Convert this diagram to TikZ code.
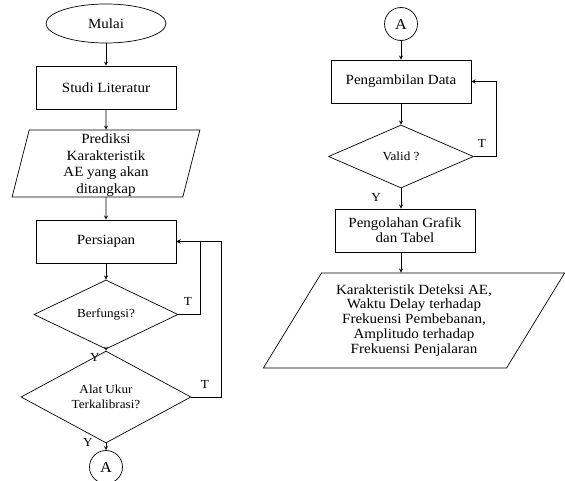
\documentclass[tikz,border=0pt]{standalone}
\usepackage{fontspec}
\setmainfont{Liberation Serif}[FakeStretch=1.07]
\usetikzlibrary{positioning, calc, shapes.geometric}

\begin{document}
\begin{tikzpicture}[x=0.03cm, y=-0.03cm, >=stealth, line width=0.6pt,
    proses/.style={draw, rectangle, minimum width=4.2cm, minimum height=1.29cm, align=center, inner sep=1pt, font=\fontsize{12}{13}\selectfont},
    terminal/.style={draw, ellipse, minimum width=3.6cm, minimum height=1.17cm, font=\fontsize{12}{14}\selectfont},
    konektor/.style={draw, circle, minimum size=0.99cm, inner sep=0pt, font=\fontsize{13}{15}\selectfont},
    keputusan/.style={draw, diamond, inner sep=0pt, align=center, font=\fontsize{10.5}{12.5}\selectfont},
    data/.style={draw, trapezium, trapezium stretches=true, inner sep=0pt, align=center},
    ket/.style={inner sep=0pt, font=\fontsize{10.5}{12}\selectfont}]
  \useasboundingbox (0,0) rectangle (565,481);

  % kolom kiri
  \node[terminal] (mulai) at (106,23.5) {Mulai};
  \node[proses] (studi) at (106,87.5) {Studi Literatur};
  \node[data, trapezium left angle=61, trapezium right angle=119,
        minimum width=5.64cm, minimum height=2.01cm,
        label={[yshift=-1.5pt, align=center, font=\fontsize{12}{14.2}\selectfont]center:Prediksi\\Karakteristik\\AE yang akan\\ditangkap}]
        (prediksi) at (106,163.5) {\phantom{Prediksi}};
  \node[proses] (persiapan) at (106,241.5) {Persiapan};
  \node[keputusan, minimum width=4.32cm, minimum height=1.89cm] (berfungsi) at (106,314.5) {Berfungsi?};
  \node[keputusan, minimum width=5.1cm, minimum height=2.16cm] (alat) at (106,397) {Alat Ukur\\Terkalibrasi?};
  \node[konektor] (ka) at (106,467) {A};

  % kolom kanan
  \node[konektor] (kb) at (401,24) {A};
  \node[proses] (ambil) at (401,81.5) {Pengambilan Data};
  \node[keputusan, minimum width=4.35cm, minimum height=1.89cm] (valid) at (401,156.5) {Valid ?};
  \node[proses] (olah) at (405,230.5) {Pengolahan Grafik\\dan Tabel};
  \node[data, trapezium left angle=56, trapezium right angle=124,
        minimum width=9.06cm, minimum height=2.85cm,
        font=\fontsize{12}{12.75}\selectfont] (hasil) at (414,320.5)
        {Karakteristik Deteksi AE,\\Waktu Delay terhadap\\Frekuensi Pembebanan,\\Amplitudo terhadap\\Frekuensi Penjalaran};

  % label
  \node[ket] (t1) at (188,301) {T};
  \node[ket] (t2) at (205,384) {T};
  \node[ket] (y1) at (95,357) {Y};
  \node[ket] (y2) at (88,442) {Y};
  \node[ket] (t3) at (482,143) {T};
  \node[ket] (y3) at (376,197) {Y};

  % panah
  \draw[->] (mulai) -- (studi);
  \draw[->] (studi) -- (prediksi);
  \draw[->] (prediksi) -- (persiapan);
  \draw[->] (persiapan) -- (berfungsi);
  \draw[->] (berfungsi) -- (alat);
  \draw[->] (alat) -- (ka);
  \draw[->] (berfungsi.east) -- ++(22,0) |- (persiapan.east);
  \draw[->] (alat.east) -- ++(30,0) |- (persiapan.east);

  \draw[->] (kb) -- (ambil);
  \draw[->] (ambil) -- (valid);
  \draw[->] (valid.south) -- (valid.south |- olah.north);
  \draw[->] (valid.east) -- ++(22,0) |- (ambil.east);
  \draw[->] (olah.south -| valid.south) -- (valid.south |- hasil.north);
\end{tikzpicture}
\end{document}
